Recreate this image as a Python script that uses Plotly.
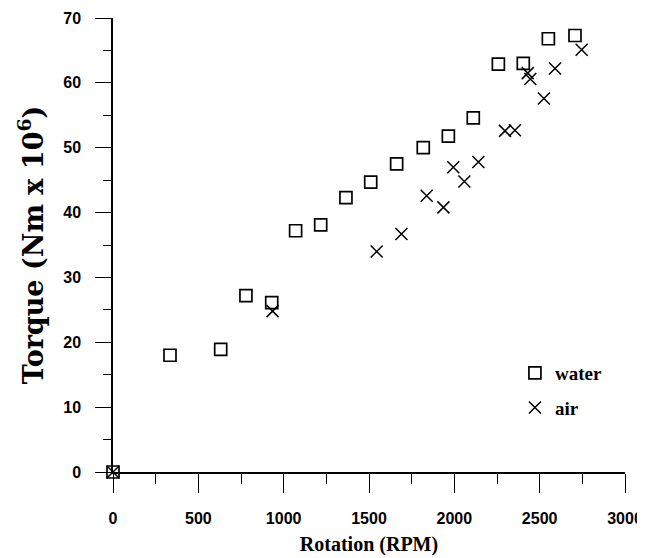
import plotly.graph_objects as go

# Data
water_rpm = [0, 334, 631, 779, 930, 1070, 1217, 1365, 1510, 1662, 1818, 1965, 2111, 2258, 2404, 2551, 2707]
water_torque = [0, 18.0, 18.9, 27.2, 26.1, 37.2, 38.1, 42.3, 44.7, 47.5, 50.0, 51.8, 54.6, 62.9, 63.0, 66.8, 67.3]

air_rpm = [0, 935, 1545, 1690, 1838, 1936, 1994, 2059, 2141, 2297, 2355, 2430, 2445, 2525, 2590, 2746]
air_torque = [0, 24.8, 34.0, 36.7, 42.6, 40.8, 47.0, 44.8, 47.8, 52.6, 52.7, 61.5, 60.6, 57.6, 62.2, 65.1]

x_ticks = [0, 500, 1000, 1500, 2000, 2500, 3000]
y_ticks = [0, 10, 20, 30, 40, 50, 60, 70]

tick_font = dict(family="Liberation Sans Narrow, Arial Narrow, Liberation Sans, Arial", size=16, color="black", weight="bold")
title_font_x = dict(family="Liberation Serif, Times New Roman, serif", size=20, color="black", weight="bold")
title_font_y = dict(family="DejaVu Serif, serif", size=27, color="black", weight="bold")

fig = go.Figure()
fig.add_trace(go.Scatter(
    x=water_rpm, y=water_torque, mode="markers", name="water", legendgroup="w",
    marker=dict(symbol="square-open", size=12, color="black", line=dict(width=1.7, color="black")),
    cliponaxis=False,
))
fig.add_trace(go.Scatter(
    x=air_rpm, y=air_torque, mode="markers", name="air", legendgroup="a",
    marker=dict(symbol="x-thin-open", size=12, color="black", line=dict(width=1.5, color="black")),
    cliponaxis=False,
))

fig.update_layout(
    width=637, height=550,
    margin=dict(l=105, r=20, t=10, b=86),
    paper_bgcolor="white", plot_bgcolor="white",
    showlegend=True,
    legend=dict(
        x=0.785, y=0.26, xanchor="left", yanchor="top",
        font=dict(family="Liberation Serif, Times New Roman, serif", size=19, color="black", weight="bold"),
        bgcolor="rgba(0,0,0,0)", traceorder="grouped", tracegroupgap=7,
        itemwidth=30,
    ),
    xaxis=dict(
        range=[0, 3000], tickvals=x_ticks, ticktext=[str(v) for v in x_ticks],
        ticks="outside", ticklen=19, tickwidth=1.4, tickcolor="black",
        minor=dict(dtick=250, tick0=0, ticks="outside", ticklen=10, tickwidth=1.4, tickcolor="black", showgrid=False),
        showline=True, linecolor="black", linewidth=1.5,
        showgrid=False, zeroline=False, tickfont=tick_font, ticklabelstandoff=12,
        title=dict(text="Rotation (RPM)", font=title_font_x, standoff=11),
        automargin=False,
    ),
    yaxis=dict(
        range=[0, 70], tickvals=y_ticks, ticktext=[str(v) for v in y_ticks],
        ticks="outside", ticklen=16, tickwidth=1.4, tickcolor="black",
        minor=dict(dtick=5, tick0=0, ticks="outside", ticklen=8, tickwidth=1.4, tickcolor="black", showgrid=False),
        showline=True, linecolor="black", linewidth=1.5,
        showgrid=False, zeroline=False, tickfont=tick_font, ticklabelstandoff=11,
        title=dict(text="Torque (Nm x 10<sup>6</sup>)", font=title_font_y, standoff=12),
        automargin=False,
    ),
)

fig.write_html("out.html")
